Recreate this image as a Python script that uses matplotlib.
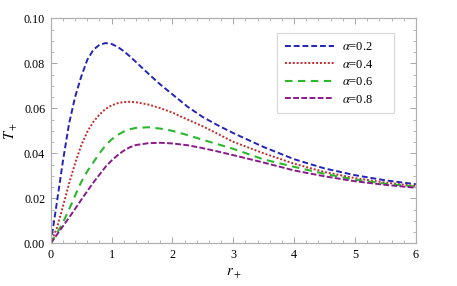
import numpy as np
import matplotlib
matplotlib.use("Agg")
import matplotlib.pyplot as plt
from matplotlib.ticker import MultipleLocator

plt.rcParams["font.family"] = ["Liberation Serif", "DejaVu Serif"]
plt.rcParams["mathtext.fontset"] = "stix"

# values
r_plus = [0, 0.1, 0.2, 0.3, 0.4, 0.5, 0.6, 0.7, 0.8, 0.9, 1.0, 1.1, 1.2, 1.3, 1.4,
          1.6, 1.8, 2.0, 2.25, 2.5, 2.75, 3.0, 3.5, 4.0, 4.5, 5.0, 5.5, 6.0]

T_a02 = [0, 0.0180, 0.0365, 0.0530, 0.0650, 0.0740, 0.0815, 0.0860, 0.0882, 0.0890,
         0.0886, 0.0873, 0.0854, 0.0831, 0.0806, 0.0755, 0.0706, 0.0662, 0.0607,
         0.0561, 0.0524, 0.0490, 0.0428, 0.0374, 0.0333, 0.0303, 0.0280, 0.0263]
T_a04 = [0, 0.0068, 0.0163, 0.0265, 0.0355, 0.0435, 0.0495, 0.0540, 0.0572, 0.0597,
         0.0613, 0.0623, 0.0628, 0.0629, 0.0627, 0.0617, 0.0601, 0.0581, 0.0550,
         0.0520, 0.0486, 0.0451, 0.0400, 0.0354, 0.0317, 0.0290, 0.0270, 0.0255]
T_a06 = [0, 0.0045, 0.0092, 0.0150, 0.0212, 0.0272, 0.0320, 0.0360, 0.0400, 0.0435,
         0.0462, 0.0482, 0.0497, 0.0507, 0.0513, 0.0516, 0.0510, 0.0500, 0.0481,
         0.0460, 0.0440, 0.0420, 0.0373, 0.0340, 0.0309, 0.0283, 0.0265, 0.0252]
T_a08 = [0, 0.0038, 0.0076, 0.0114, 0.0153, 0.0193, 0.0232, 0.0270, 0.0305, 0.0340,
         0.0368, 0.0392, 0.0412, 0.0427, 0.0437, 0.0445, 0.0447, 0.0444, 0.0436,
         0.0423, 0.0408, 0.0392, 0.0359, 0.0324, 0.0298, 0.0276, 0.0260, 0.0247]

alphas = ["0.2", "0.4", "0.6", "0.8"]

fig = plt.figure(figsize=(4.57, 2.86), dpi=100)
ax = fig.add_axes([0.111, 0.149, 0.799, 0.787])

ax.plot(r_plus, T_a02, color="#2424b8", lw=1.4, dashes=(3.0, 1.5), label=r"$\alpha$=" + alphas[0])
ax.plot(r_plus, T_a04, color="#c42a2a", lw=1.4, dashes=(1.0, 1.0), label=r"$\alpha$=" + alphas[1])
ax.plot(r_plus, T_a06, color="#2cb82c", lw=1.5, dashes=(3.6, 2.6), label=r"$\alpha$=" + alphas[2])
ax.plot(r_plus, T_a08, color="#8a1a8a", lw=1.4, dashes=(3.0, 1.2), label=r"$\alpha$=" + alphas[3])

ax.set_xlim(0, 6)
ax.set_ylim(0, 0.10)
ax.xaxis.set_major_locator(MultipleLocator(1))
ax.xaxis.set_minor_locator(MultipleLocator(0.2))
ax.yaxis.set_major_locator(MultipleLocator(0.02))
ax.yaxis.set_minor_locator(MultipleLocator(0.005))
ax.yaxis.set_major_formatter(plt.FormatStrFormatter("%.2f"))
ax.xaxis.set_major_formatter(plt.FormatStrFormatter("%d"))

ax.tick_params(which="both", direction="in", top=True, right=True, color="#999999",
               labelsize=8.7, pad=4)
ax.tick_params(which="major", length=4, width=0.6)
ax.tick_params(which="minor", length=2, width=0.5)
for s in ax.spines.values():
    s.set_color("#b0b0b0")
    s.set_linewidth(0.9)

ax.set_xlabel(r"$r_+$", fontsize=10.5, labelpad=4)
ax.set_ylabel(r"$T_+$", fontsize=10.5, labelpad=3)

leg = ax.legend(loc="upper left", bbox_to_anchor=(0.621, 0.585, 0.32, 0.348),
                mode="expand", fontsize=9,
                handlelength=3.9, handletextpad=0.7, labelspacing=0.45,
                borderpad=0.6, borderaxespad=0, fancybox=False, frameon=True)
leg.get_frame().set_edgecolor("#cccccc")
leg.get_frame().set_linewidth(0.8)

fig.savefig("out.png", dpi=100)
